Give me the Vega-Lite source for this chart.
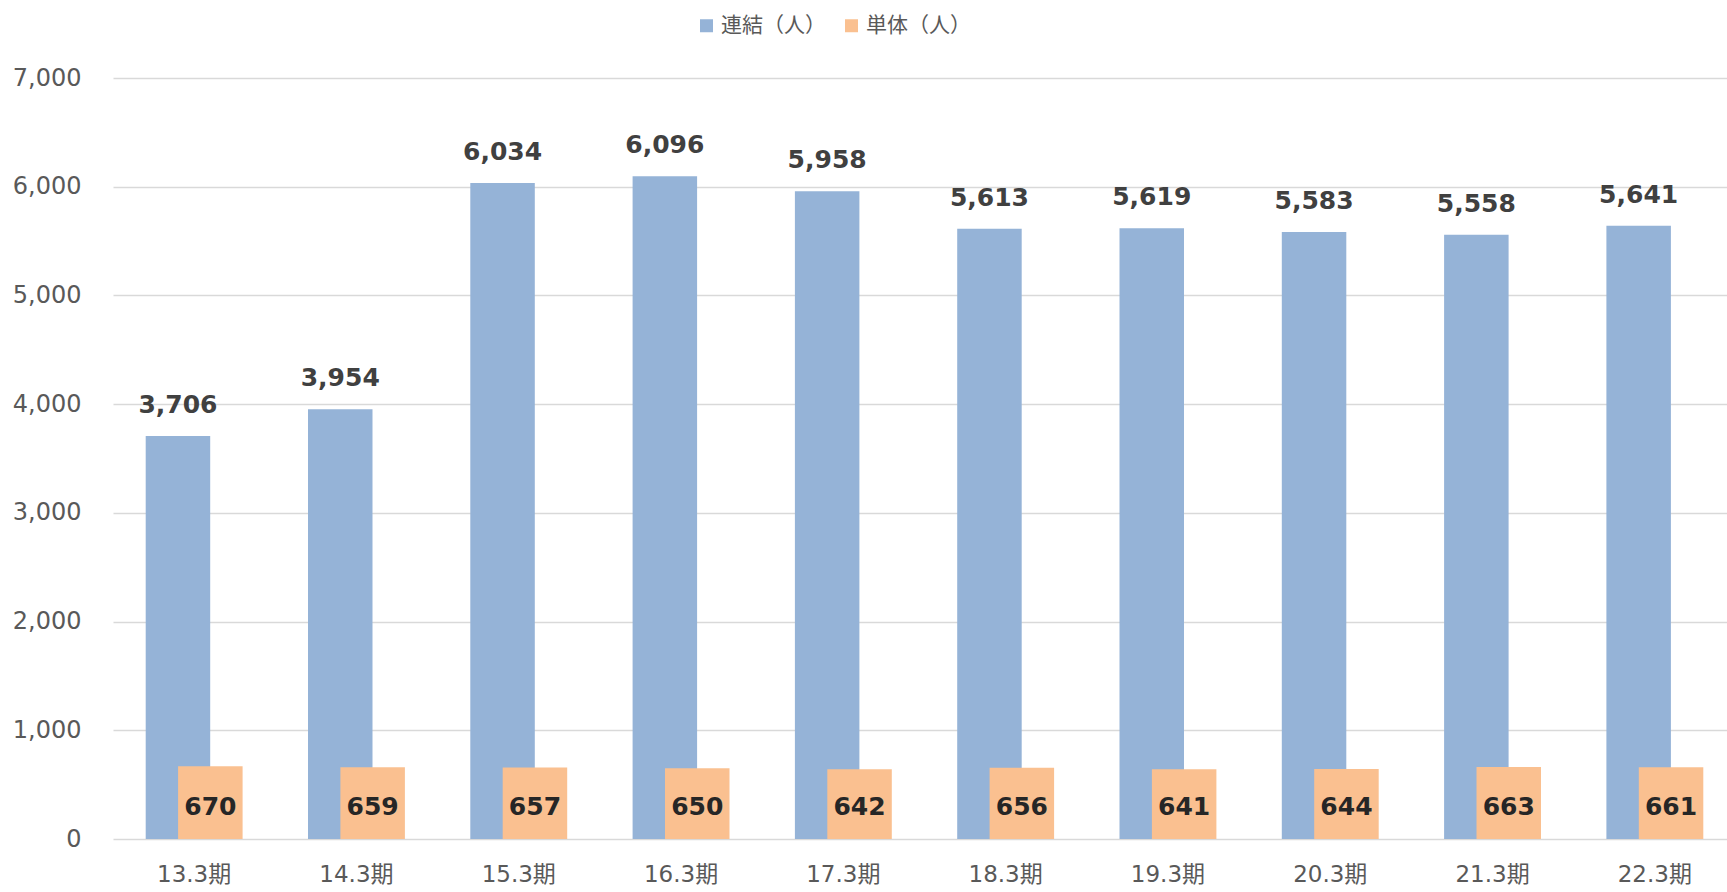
{
  "$schema": "https://vega.github.io/schema/vega-lite/v6.json",
  "autosize": {"type": "none"},
  "width": 1614,
  "height": 761,
  "padding": {"left": 113, "top": 78, "right": 0, "bottom": 53},
  "background": "white",
  "config": {"view": {"stroke": null}},
  "data": {
    "values": [
      {"period": "13.3期", "series": "連結（人）", "value": 3706},
      {"period": "14.3期", "series": "連結（人）", "value": 3954},
      {"period": "15.3期", "series": "連結（人）", "value": 6034},
      {"period": "16.3期", "series": "連結（人）", "value": 6096},
      {"period": "17.3期", "series": "連結（人）", "value": 5958},
      {"period": "18.3期", "series": "連結（人）", "value": 5613},
      {"period": "19.3期", "series": "連結（人）", "value": 5619},
      {"period": "20.3期", "series": "連結（人）", "value": 5583},
      {"period": "21.3期", "series": "連結（人）", "value": 5558},
      {"period": "22.3期", "series": "連結（人）", "value": 5641},
      {"period": "13.3期", "series": "単体（人）", "value": 670},
      {"period": "14.3期", "series": "単体（人）", "value": 659},
      {"period": "15.3期", "series": "単体（人）", "value": 657},
      {"period": "16.3期", "series": "単体（人）", "value": 650},
      {"period": "17.3期", "series": "単体（人）", "value": 642},
      {"period": "18.3期", "series": "単体（人）", "value": 656},
      {"period": "19.3期", "series": "単体（人）", "value": 641},
      {"period": "20.3期", "series": "単体（人）", "value": 644},
      {"period": "21.3期", "series": "単体（人）", "value": 663},
      {"period": "22.3期", "series": "単体（人）", "value": 661}
    ]
  },
  "encoding": {
    "x": {
      "field": "period",
      "type": "nominal",
      "sort": null,
      "title": null,
      "scale": {"range": [0, 1623], "paddingInner": 0, "paddingOuter": 0},
      "axis": {
        "labelAngle": 0,
        "labelFont": "DejaVu Sans, Noto Sans CJK JP",
        "labelFontSize": 23,
        "labelColor": "#595959",
        "labelPadding": 24,
        "domain": false,
        "ticks": false,
        "grid": false
      }
    }
  },
  "layer": [
    {
      "transform": [{"filter": "datum.series === '連結（人）'"}],
      "mark": {"type": "bar", "width": 64.5, "xOffset": -16.2},
      "encoding": {
        "y": {
          "field": "value",
          "type": "quantitative",
          "title": null,
          "scale": {"domain": [0, 7000], "nice": false},
          "axis": {
            "values": [0, 1000, 2000, 3000, 4000, 5000, 6000, 7000],
            "format": ",d",
            "labelFont": "DejaVu Sans",
            "labelFontSize": 24,
            "labelColor": "#595959",
            "labelPadding": 32,
            "ticks": false,
            "domain": false,
            "grid": true,
            "gridColor": "#D9D9D9",
            "gridWidth": 1.5
          }
        },
        "color": {
          "field": "series",
          "type": "nominal",
          "scale": {"domain": ["連結（人）", "単体（人）"], "range": ["#95B3D7", "#FAC090"]},
          "legend": {
            "title": null,
            "orient": "none",
            "direction": "horizontal",
            "legendX": 583,
            "legendY": -63,
            "symbolType": "square",
            "symbolSize": 169,
            "symbolStrokeWidth": 0,
            "labelFont": "Noto Sans CJK JP",
            "labelFontSize": 21,
            "labelColor": "#595959",
            "labelOffset": 4,
            "columnPadding": 15,
            "padding": 0
          }
        }
      }
    },
    {
      "transform": [{"filter": "datum.series === '単体（人）'"}],
      "mark": {"type": "bar", "width": 64.5, "xOffset": 16.2},
      "encoding": {
        "y": {"field": "value", "type": "quantitative"},
        "color": {"field": "series", "type": "nominal"}
      }
    },
    {
      "transform": [{"filter": "datum.series === '連結（人）'"}],
      "mark": {
        "type": "text",
        "xOffset": -16.2,
        "dy": -23,
        "baseline": "alphabetic",
        "font": "DejaVu Sans",
        "fontWeight": "bold",
        "fontSize": 25,
        "color": "#404040"
      },
      "encoding": {
        "y": {"field": "value", "type": "quantitative"},
        "text": {"field": "value", "type": "quantitative", "format": ",d"}
      }
    },
    {
      "transform": [{"filter": "datum.series === '単体（人）'"}],
      "mark": {
        "type": "text",
        "xOffset": 16.2,
        "dy": -24,
        "baseline": "alphabetic",
        "font": "DejaVu Sans",
        "fontWeight": "bold",
        "fontSize": 25,
        "color": "#262626"
      },
      "encoding": {
        "y": {"datum": 0, "type": "quantitative"},
        "text": {"field": "value", "type": "quantitative", "format": ",d"}
      }
    }
  ]
}
